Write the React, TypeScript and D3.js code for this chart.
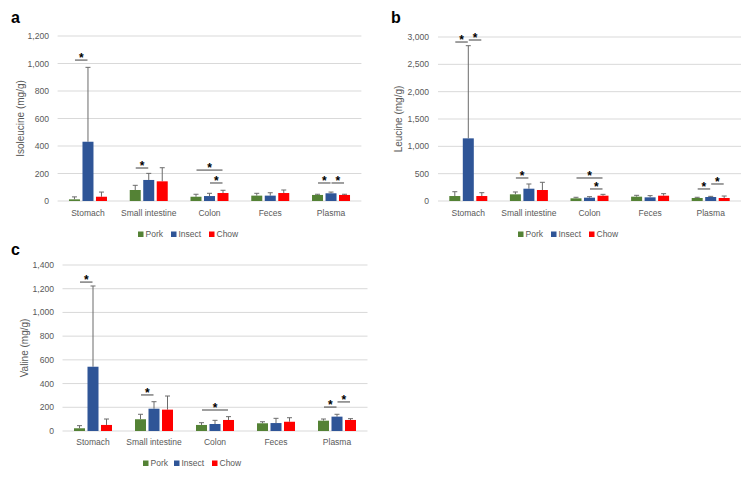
import React from "react";
import * as d3 from "d3";

const categories = ["Stomach", "Small intestine", "Colon", "Feces", "Plasma"];
const seriesNames = ["Pork", "Insect", "Chow"];
const seriesColors = ["#548235", "#2F5597", "#FF0000"];

// Isoleucine (mg/g)
const isoPork = [12, 80, 31, 39, 44];
const isoInsect = [431, 153, 36, 39, 56];
const isoChow = [31, 143, 58, 58, 44];
const isoPorkSd = [18, 34, 18, 17, 5];
const isoInsectSd = [541, 48, 20, 21, 9];
const isoChowSd = [34, 99, 20, 22, 5];

// Leucine (mg/g)
const leuPork = [91, 122, 49, 79, 55];
const leuInsect = [1146, 225, 61, 67, 73];
const leuChow = [91, 201, 97, 97, 55];
const leuPorkSd = [79, 43, 19, 25, 13];
const leuInsectSd = [1695, 86, 18, 31, 12];
const leuChowSd = [61, 141, 25, 37, 36];

// Valine (mg/g)
const valPork = [23, 99, 51, 65, 87];
const valInsect = [542, 188, 59, 67, 121];
const valChow = [51, 180, 93, 78, 93];
const valPorkSd = [22, 42, 19, 13, 14];
const valInsectSd = [681, 59, 31, 40, 20];
const valChowSd = [50, 115, 28, 34, 11];

// Significance brackets: [category, fromSeries, toSeries, level (mg/g)]
const isoSig: [string, string, string, number][] = [
  ["Stomach", "Pork", "Insect", 1025],
  ["Small intestine", "Pork", "Insect", 240],
  ["Colon", "Pork", "Chow", 225],
  ["Colon", "Insect", "Chow", 131],
  ["Plasma", "Pork", "Insect", 131],
  ["Plasma", "Insect", "Chow", 131],
];
const leuSig: [string, string, string, number][] = [
  ["Stomach", "Pork", "Insect", 2908],
  ["Stomach", "Insect", "Chow", 2945],
  ["Small intestine", "Pork", "Insect", 421],
  ["Colon", "Pork", "Chow", 421],
  ["Colon", "Insect", "Chow", 220],
  ["Plasma", "Pork", "Insect", 220],
  ["Plasma", "Insect", "Chow", 311],
];
const valSig: [string, string, string, number][] = [
  ["Stomach", "Pork", "Insect", 1256],
  ["Small intestine", "Pork", "Insect", 304],
  ["Colon", "Pork", "Chow", 177],
  ["Plasma", "Pork", "Insect", 202],
  ["Plasma", "Insect", "Chow", 245],
];

const isoTicks = [0, 200, 400, 600, 800, 1000, 1200];
const leuTicks = [0, 500, 1000, 1500, 2000, 2500, 3000];
const valTicks = [0, 200, 400, 600, 800, 1000, 1200, 1400];

const FONT = "'Liberation Sans', Arial, sans-serif";
const GREY = "#595959";
const fmt = d3.format(",");

type PanelProps = {
  letter: string;
  letterX: number;
  letterY: number;
  title: string;
  titleX: number;
  x0: number;
  x1: number;
  yTop: number;
  yBottom: number;
  ticks: number[];
  tickRight: number;
  catY: number;
  legendX: number;
  legendY: number;
  legendOffsets: number[];
  means: number[][];
  sds: number[][];
  sig: [string, string, string, number][];
};

function Panel(p: PanelProps) {
  const x = d3.scaleBand<string>().domain(categories).range([p.x0, p.x1]);
  const xs = d3
    .scaleBand<string>()
    .domain(seriesNames)
    .range([-19, 19])
    .paddingInner(2.5 / 13.5);
  const y = d3
    .scaleLinear()
    .domain([0, p.ticks[p.ticks.length - 1]])
    .range([p.yBottom, p.yTop]);
  const bw = xs.bandwidth();
  const cx = (cat: string, s: string) =>
    (x(cat) as number) + x.bandwidth() / 2 + (xs(s) as number) + bw / 2;

  return (
    <g fontFamily={FONT}>
      <text x={p.letterX} y={p.letterY} fontSize={16} fontWeight="bold" fill="#000">
        {p.letter}
      </text>
      {p.ticks.map((t) => (
        <g key={t}>
          <line x1={p.x0} x2={p.x1} y1={y(t)} y2={y(t)} stroke="#d9d9d9" strokeWidth={1} />
          <text
            x={p.tickRight}
            y={y(t)}
            dy="0.35em"
            textAnchor="end"
            fontSize={8.6}
            fill={GREY}
          >
            {fmt(t)}
          </text>
        </g>
      ))}
      <text
        transform={`translate(${p.titleX},${(p.yTop + p.yBottom) / 2}) rotate(-90)`}
        textAnchor="middle"
        dy="0.35em"
        fontSize={10}
        fill={GREY}
      >
        {p.title}
      </text>
      {seriesNames.map((s, si) =>
        categories.map((c, ci) => {
          const v = p.means[si][ci];
          const e = v + p.sds[si][ci];
          const xc = cx(c, s);
          return (
            <g key={s + c}>
              <line x1={xc} x2={xc} y1={y(v)} y2={y(e)} stroke="#6b6b6b" strokeWidth={1} />
              <line x1={xc - 2.5} x2={xc + 2.5} y1={y(e)} y2={y(e)} stroke="#6b6b6b" strokeWidth={1} />
              <rect
                x={xc - bw / 2}
                y={y(v)}
                width={bw}
                height={p.yBottom - y(v)}
                fill={seriesColors[si]}
              />
            </g>
          );
        })
      )}
      {p.sig.map(([c, a, b, lvl], i) => {
        const xa = cx(c, a) + 0.5;
        const xb = cx(c, b) - 0.5;
        const yy = y(lvl);
        return (
          <g key={i}>
            <line x1={xa} x2={xb} y1={yy} y2={yy} stroke="#404040" strokeWidth={1} />
            <text
              x={(xa + xb) / 2}
              y={yy + 2}
              textAnchor="middle"
              fontSize={12}
              fontWeight="bold"
              fill="#000"
            >
              *
            </text>
          </g>
        );
      })}
      {categories.map((c) => (
        <text
          key={c}
          x={(x(c) as number) + x.bandwidth() / 2}
          y={p.catY}
          textAnchor="middle"
          fontSize={8.5}
          fill={GREY}
        >
          {c}
        </text>
      ))}
      {seriesNames.map((s, si) => (
        <g key={s}>
          <rect
            x={p.legendX + p.legendOffsets[si]}
            y={p.legendY - 5.5}
            width={5.5}
            height={5.5}
            fill={seriesColors[si]}
          />
          <text
            x={p.legendX + p.legendOffsets[si] + 7.5}
            y={p.legendY}
            fontSize={8.5}
            fill={GREY}
          >
            {s}
          </text>
        </g>
      ))}
    </g>
  );
}

export default function App() {
  return (
    <svg
      width={753}
      height={477}
      style={{ position: "absolute", left: 0, top: 0, background: "#fff" }}
    >
      <rect width={753} height={477} fill="#fff" />
      <Panel
        letter="a"
        letterX={11}
        letterY={23}
        title="Isoleucine (mg/g)"
        titleX={20}
        x0={57.6}
        x1={361.4}
        yTop={36}
        yBottom={201}
        ticks={isoTicks}
        tickRight={49}
        catY={216}
        legendX={138}
        legendY={237}
        legendOffsets={[0, 33, 71]}
        means={[isoPork, isoInsect, isoChow]}
        sds={[isoPorkSd, isoInsectSd, isoChowSd]}
        sig={isoSig}
      />
      <Panel
        letter="b"
        letterX={391}
        letterY={23}
        title="Leucine (mg/g)"
        titleX={398}
        x0={438}
        x1={741}
        yTop={37}
        yBottom={201}
        ticks={leuTicks}
        tickRight={429}
        catY={216}
        legendX={518}
        legendY={237}
        legendOffsets={[0, 33, 71]}
        means={[leuPork, leuInsect, leuChow]}
        sds={[leuPorkSd, leuInsectSd, leuChowSd]}
        sig={leuSig}
      />
      <Panel
        letter="c"
        letterX={11}
        letterY={255}
        title="Valine (mg/g)"
        titleX={24}
        x0={62.5}
        x1={367.5}
        yTop={265}
        yBottom={431}
        ticks={valTicks}
        tickRight={54}
        catY={445}
        legendX={143}
        legendY={466}
        legendOffsets={[0, 31, 69]}
        means={[valPork, valInsect, valChow]}
        sds={[valPorkSd, valInsectSd, valChowSd]}
        sig={valSig}
      />
    </svg>
  );
}
